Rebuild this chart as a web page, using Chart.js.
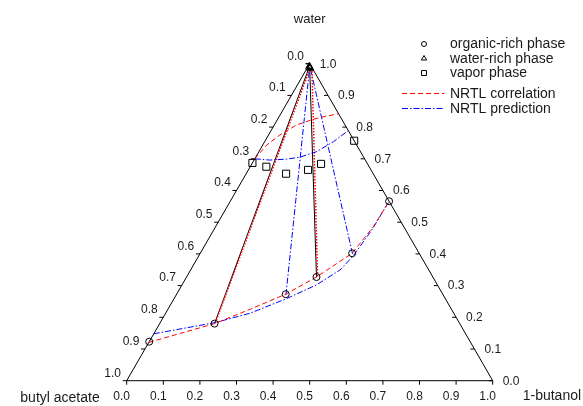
<!DOCTYPE html>
<html>
<head>
<meta charset="utf-8">
<script src="https://cdn.jsdelivr.net/npm/chart.js@4.4.1/dist/chart.umd.min.js"></script>
<style>
  html, body { margin: 0; padding: 0; background: #fff; }
  #wrap { width: 583px; height: 406px; }
</style>
</head>
<body>
<div id="wrap"><canvas id="tern" width="583" height="406"></canvas></div>
<script>
// mass fractions: w = water, b = 1-butanol, butyl acetate = 1 - w - b

var tickValues = [0, 0.1, 0.2, 0.3, 0.4, 0.5, 0.6, 0.7, 0.8, 0.9, 1.0];
var tickLabels = ["0.0", "0.1", "0.2", "0.3", "0.4", "0.5", "0.6", "0.7", "0.8", "0.9", "1.0"];
var cornerLabels = ["butyl acetate", "1-butanol", "water"];

// experiment
var organicW = [0.123, 0.180, 0.273, 0.327, 0.402, 0.566];
var organicB = [0.000, 0.150, 0.298, 0.355, 0.415, 0.434];
var aqueousW = [0.992, 0.990, 0.989, 0.988, 0.987, 0.986];
var aqueousB = [0.003, 0.004, 0.005, 0.006, 0.007, 0.008];
var vaporW   = [0.687, 0.675, 0.653, 0.665, 0.684, 0.757];
var vaporB   = [0.000, 0.044, 0.109, 0.163, 0.189, 0.243];
var expTies  = [1, 3];   // tie lines drawn solid

// NRTL correlation
var corrBinW = [0.121, 0.180, 0.225, 0.273, 0.327, 0.402, 0.486, 0.566];
var corrBinB = [0.000, 0.150, 0.224, 0.298, 0.355, 0.415, 0.431, 0.434];
var corrVapW = [0.700, 0.744, 0.775, 0.807, 0.825, 0.835, 0.842];
var corrVapB = [0.000, 0.011, 0.031, 0.061, 0.098, 0.129, 0.158];
var corrTieOrgW = [0.182, 0.329];
var corrTieOrgB = [0.151, 0.357];
var corrTieAqW  = [0.988, 0.988];
var corrTieAqB  = [0.008, 0.012];

// NRTL prediction
var predBinW = [0.148, 0.183, 0.213, 0.258, 0.302, 0.349, 0.393, 0.475, 0.566];
var predBinB = [0.000, 0.149, 0.231, 0.306, 0.367, 0.408, 0.422, 0.432, 0.434];
var predVapW = [0.700, 0.696, 0.699, 0.705, 0.723, 0.754, 0.789];
var predVapB = [0.000, 0.043, 0.088, 0.121, 0.158, 0.188, 0.211];
var predTieOrgW = [0.270, 0.400];
var predTieOrgB = [0.300, 0.417];
var predTieAqW  = [0.990, 0.990];
var predTieAqB  = [0.005, 0.006];

var legendLabels = ["organic-rich phase", "water-rich phase", "vapor phase", "NRTL correlation", "NRTL prediction"];

var S = Math.sqrt(3) / 2;
var FONT = '"Liberation Sans", Arial, sans-serif';
var INK = "#1a1a1a";
var RED = "#ff0000", BLUE = "#0000ff";
var DASH = [5, 3], DASHDOT = [6, 2, 1.5, 2], DOT = [1.5, 1.5];

function pt(w, b) { return { x: b + w / 2, y: w * S }; }
function pts(ws, bs) { return ws.map(function(w, i) { return pt(w, bs[i]); }); }

function lineSet(data, color, dash, order, width) {
  return {
    data: data, showLine: true, borderColor: color, borderWidth: width || 1,
    borderDash: dash || [], pointRadius: 0, tension: 0, fill: false,
    clip: false, order: order
  };
}
function markSet(data, style, radius) {
  return {
    data: data, showLine: false, pointStyle: style, pointRadius: radius,
    pointBorderColor: "#000", pointBackgroundColor: "rgba(0,0,0,0)",
    pointBorderWidth: 1, clip: false, order: 0
  };
}

var datasets = [];
// outer triangle: butyl acetate, 1-butanol, water corners
datasets.push(lineSet([pt(0, 0), pt(0, 1), pt(1, 0), pt(0, 0)], "#000", null, 10));

expTies.forEach(function(i) {
  datasets.push(lineSet([pt(organicW[i], organicB[i]), pt(aqueousW[i], aqueousB[i])], "#000", null, 6));
});
corrTieOrgW.forEach(function(w, i) {
  datasets.push(lineSet([pt(w, corrTieOrgB[i]), pt(corrTieAqW[i], corrTieAqB[i])], RED, DOT, 5, 1.5));
});
predTieOrgW.forEach(function(w, i) {
  datasets.push(lineSet([pt(w, predTieOrgB[i]), pt(predTieAqW[i], predTieAqB[i])], BLUE, DASHDOT, 5));
});
datasets.push(lineSet(pts(predBinW, predBinB), BLUE, DASHDOT, 4));
datasets.push(lineSet(pts(predVapW, predVapB), BLUE, DASHDOT, 4));
datasets.push(lineSet(pts(corrBinW, corrBinB), RED, DASH, 3));
datasets.push(lineSet(pts(corrVapW, corrVapB), RED, DASH, 3));

datasets.push(markSet(pts(organicW, organicB), "circle", 3.5));
datasets.push(markSet(pts(aqueousW, aqueousB), "triangle", 4));
datasets.push(markSet(pts(vaporW, vaporB), "rect", 5));

// ── ticks, tick labels, corner labels, legend ────────────────────────────────
var ternaryDecor = {
  id: "ternaryDecor",
  afterDatasetsDraw: function(chart) {
    var ctx = chart.ctx, sx = chart.scales.x, sy = chart.scales.y;
    function px(p) { return { x: sx.getPixelForValue(p.x), y: sy.getPixelForValue(p.y) }; }

    ctx.save();
    ctx.strokeStyle = "#000";
    ctx.lineWidth = 1;
    ctx.fillStyle = INK;
    ctx.font = "12px " + FONT;
    ctx.textBaseline = "middle";

    tickValues.forEach(function(v, i) {
      // left side: butyl acetate
      var l = px(pt(1 - v, 0));
      ctx.beginPath(); ctx.moveTo(l.x, l.y); ctx.lineTo(l.x - 4, l.y); ctx.stroke();
      ctx.textAlign = "center";
      ctx.fillText(tickLabels[i], l.x - 14, l.y - 7.5);

      // right side: water
      var r = px(pt(v, 1 - v));
      ctx.beginPath(); ctx.moveTo(r.x, r.y); ctx.lineTo(r.x - 4, r.y); ctx.stroke();
      ctx.textAlign = "left";
      ctx.fillText(tickLabels[i], r.x + 10, r.y + 0.5);

      // bottom: 1-butanol
      var d = px(pt(0, v));
      ctx.beginPath(); ctx.moveTo(d.x, d.y); ctx.lineTo(d.x, d.y + 4); ctx.stroke();
      ctx.textAlign = "center";
      ctx.fillText(tickLabels[i], d.x - 5, d.y + 16);
    });

    var cBA = px(pt(0, 0)), cBu = px(pt(0, 1)), cW = px(pt(1, 0));
    ctx.font = "14px " + FONT;
    ctx.textAlign = "right";
    ctx.fillText(cornerLabels[0], cBA.x - 27, cBA.y + 17);
    ctx.textAlign = "left";
    ctx.fillText(cornerLabels[1], cBu.x + 30, cBu.y + 15);
    ctx.font = "13px " + FONT;
    ctx.textAlign = "center";
    ctx.fillText(cornerLabels[2], cW.x, cW.y - 44);

    // legend
    var lx = 424, tx = 450, rows = [44, 58.5, 73, 93.5, 108.5];
    var styles = ["circle", "triangle", "rect"];
    var radii = [2.5, 3, 3.5];
    ctx.font = "14px " + FONT;
    ctx.textAlign = "left";
    legendLabels.forEach(function(label, i) {
      var y = rows[i];
      if (i < 3) {
        ctx.strokeStyle = "#000";
        ctx.fillStyle = "rgba(0,0,0,0)";
        Chart.helpers.drawPoint(ctx, { pointStyle: styles[i], radius: radii[i], rotation: 0, borderWidth: 1 }, lx, y);
      } else {
        ctx.save();
        ctx.strokeStyle = i === 3 ? RED : BLUE;
        ctx.lineWidth = 1;
        ctx.setLineDash(i === 3 ? DASH : DASHDOT);
        ctx.beginPath(); ctx.moveTo(402, y); ctx.lineTo(444, y); ctx.stroke();
        ctx.restore();
      }
      ctx.fillStyle = INK;
      ctx.fillText(label, tx, y + 0.5);
    });
    ctx.restore();
  }
};

new Chart(document.getElementById("tern").getContext("2d"), {
  type: "scatter",
  data: { datasets: datasets },
  options: {
    responsive: false, animation: false, events: [],
    layout: { padding: { left: 126.7, right: 90.3, top: 63.7, bottom: 25.3 } },
    plugins: { legend: { display: false }, tooltip: { enabled: false } },
    scales: {
      x: { type: "linear", min: 0, max: 1, display: false },
      y: { type: "linear", min: 0, max: S, display: false }
    }
  },
  plugins: [ternaryDecor]
});
</script>
</body>
</html>
